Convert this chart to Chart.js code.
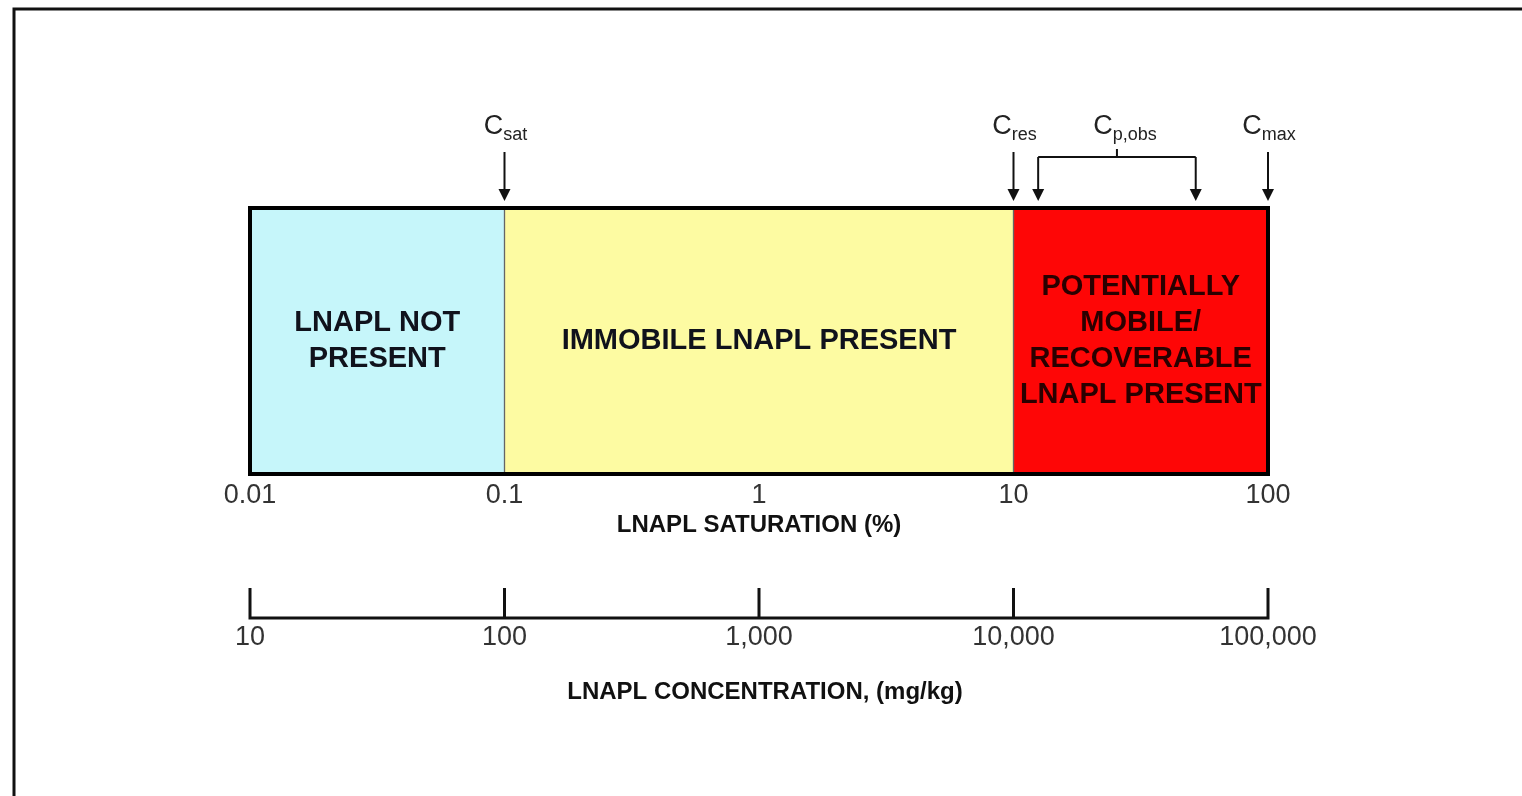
<!DOCTYPE html>
<html>
<head>
<meta charset="utf-8">
<script src="https://cdn.jsdelivr.net/npm/chart.js@4/dist/chart.umd.min.js"></script>
<style>
  html, body { margin: 0; padding: 0; background: #fff; }
  canvas { display: block; }
</style>
</head>
<body>
<canvas id="lnaplChart" width="1522" height="796"></canvas>
<script>
// zones along the saturation axis (%)
const zoneStarts = [0.01, 0.1, 10];
const zoneEnds = [0.1, 10, 100];
const zoneColors = ['#c6f6fa', '#fdfba2', '#fe0606'];
const zoneLabels = [
  ['LNAPL NOT', 'PRESENT'],
  ['IMMOBILE LNAPL PRESENT'],
  ['POTENTIALLY', 'MOBILE/', 'RECOVERABLE', 'LNAPL PRESENT']
];

// saturation axis
const satTicks = [0.01, 0.1, 1, 10, 100];
const satTickLabels = ['0.01', '0.1', '1', '10', '100'];

// concentration axis (mg/kg)
const concTicks = [10, 100, 1000, 10000, 100000];
const concTickLabels = ['10', '100', '1,000', '10,000', '100,000'];

// single arrows on top of the box
const markerSubs = ['sat', 'res', 'max'];
const markerValues = [0.1, 10, 100];
// observed range bracket
const obsSub = 'p,obs';
const obsRange = [12.5, 52];

const FONT = '"Liberation Sans", Arial, Helvetica, sans-serif';

// draws "C" with a subscript, centred on cx
function drawCLabel(ctx, sub, cx, baseY) {
  ctx.font = '27px ' + FONT;
  const wC = ctx.measureText('C').width;
  ctx.font = '18px ' + FONT;
  const wS = ctx.measureText(sub).width;
  const left = cx - (wC + wS) / 2;
  ctx.fillStyle = '#222';
  ctx.textAlign = 'left';
  ctx.textBaseline = 'alphabetic';
  ctx.font = '27px ' + FONT;
  ctx.fillText('C', left, baseY);
  ctx.font = '18px ' + FONT;
  ctx.fillText(sub, left + wC, baseY + 6);
}

function drawArrow(ctx, x, y0, y1) {
  ctx.strokeStyle = '#111';
  ctx.fillStyle = '#111';
  ctx.lineWidth = 2;
  ctx.beginPath();
  ctx.moveTo(x, y0);
  ctx.lineTo(x, y1 - 10);
  ctx.stroke();
  ctx.beginPath();
  ctx.moveTo(x - 6, y1 - 12);
  ctx.lineTo(x + 6, y1 - 12);
  ctx.lineTo(x, y1);
  ctx.closePath();
  ctx.fill();
}

const overlay = {
  id: 'overlay',
  afterDatasetsDraw(chart) {
    const { ctx, chartArea: a } = chart;
    ctx.save();
    // zone texts
    ctx.font = 'bold 29px ' + FONT;
    ctx.textAlign = 'center';
    ctx.textBaseline = 'middle';
    zoneLabels.forEach((lines, i) => {
      const el = chart.getDatasetMeta(i).data[0];
      const cx = (el.x + el.base) / 2;
      const lh = 36;
      const top = el.y - (lines.length - 1) * lh / 2;
      ctx.fillStyle = i === 2 ? '#2a0000' : '#10121c';
      lines.forEach((t, j) => ctx.fillText(t, cx, top + j * lh));
    });
    // thick outline of the box
    ctx.strokeStyle = '#000';
    ctx.lineWidth = 4;
    ctx.strokeRect(a.left, a.top, a.right - a.left, a.bottom - a.top);
    ctx.restore();
  },
  afterDraw(chart) {
    const { ctx, chartArea: a, scales } = chart;
    const x = scales.x, x2 = scales.x2;
    ctx.save();

    // single markers
    markerValues.forEach((v, i) => {
      const px = x.getPixelForValue(v);
      drawCLabel(ctx, markerSubs[i], px + 1, 134);
      drawArrow(ctx, px, 152, a.top - 7);
    });

    // observed range bracket
    const pA = x.getPixelForValue(obsRange[0]);
    const pB = x.getPixelForValue(obsRange[1]);
    const mid = (pA + pB) / 2;
    ctx.strokeStyle = '#111';
    ctx.lineWidth = 2;
    ctx.beginPath();
    ctx.moveTo(pA, 157);
    ctx.lineTo(pB, 157);
    ctx.moveTo(mid, 157);
    ctx.lineTo(mid, 149);
    ctx.stroke();
    drawArrow(ctx, pA, 157, a.top - 7);
    drawArrow(ctx, pB, 157, a.top - 7);
    drawCLabel(ctx, obsSub, mid + 8, 134);

    // concentration axis
    const axisY = 618;
    ctx.strokeStyle = '#111';
    ctx.lineWidth = 3;
    ctx.beginPath();
    ctx.moveTo(x2.getPixelForValue(concTicks[0]), axisY);
    ctx.lineTo(x2.getPixelForValue(concTicks[concTicks.length - 1]), axisY);
    concTicks.forEach(v => {
      const px = x2.getPixelForValue(v);
      ctx.moveTo(px, axisY + 1.5);
      ctx.lineTo(px, axisY - 30);
    });
    ctx.stroke();
    ctx.fillStyle = '#333';
    ctx.font = '27px ' + FONT;
    ctx.textAlign = 'center';
    ctx.textBaseline = 'middle';
    concTicks.forEach((v, i) => {
      ctx.fillText(concTickLabels[i], x2.getPixelForValue(v), axisY + 20);
    });
    ctx.fillStyle = '#111';
    ctx.font = 'bold 24px ' + FONT;
    ctx.fillText('LNAPL CONCENTRATION, (mg/kg)', (a.left + a.right) / 2 + 6, 692);

    // outer frame
    ctx.strokeStyle = '#111';
    ctx.lineWidth = 3;
    ctx.beginPath();
    ctx.moveTo(14, 800);
    ctx.lineTo(14, 9);
    ctx.lineTo(1530, 9);
    ctx.stroke();
    ctx.restore();
  }
};

const ctx = document.getElementById('lnaplChart').getContext('2d');
new Chart(ctx, {
  type: 'bar',
  data: {
    labels: ['zone'],
    datasets: zoneStarts.map((s, i) => ({
      data: [[s, zoneEnds[i]]],
      backgroundColor: zoneColors[i],
      borderColor: '#555',
      borderWidth: 1,
      borderSkipped: false,
      grouped: false,
      barPercentage: 1,
      categoryPercentage: 1
    }))
  },
  options: {
    indexAxis: 'y',
    responsive: false,
    animation: false,
    layout: { padding: { left: 250, right: 254, top: 208, bottom: 242 } },
    plugins: {
      legend: { display: false },
      tooltip: { enabled: false }
    },
    scales: {
      y: { display: false },
      x: {
        type: 'logarithmic',
        min: 0.01,
        max: 100,
        position: 'bottom',
        grid: { display: false, drawTicks: false },
        border: { display: false },
        afterBuildTicks: s => { s.ticks = satTicks.map(v => ({ value: v })); },
        afterFit: s => { s.height = 80; },
        ticks: {
          autoSkip: false,
          maxRotation: 0,
          padding: 5,
          color: '#333',
          font: { family: FONT, size: 27 },
          callback: (v) => satTickLabels[satTicks.indexOf(v)]
        },
        title: {
          display: true,
          text: 'LNAPL SATURATION (%)',
          color: '#111',
          font: { family: FONT, size: 24, weight: 'bold' },
          padding: { top: 0, bottom: 14 }
        }
      },
      x2: {
        type: 'logarithmic',
        min: 10,
        max: 100000,
        position: 'bottom',
        display: false
      }
    }
  },
  plugins: [overlay]
});
</script>
</body>
</html>
